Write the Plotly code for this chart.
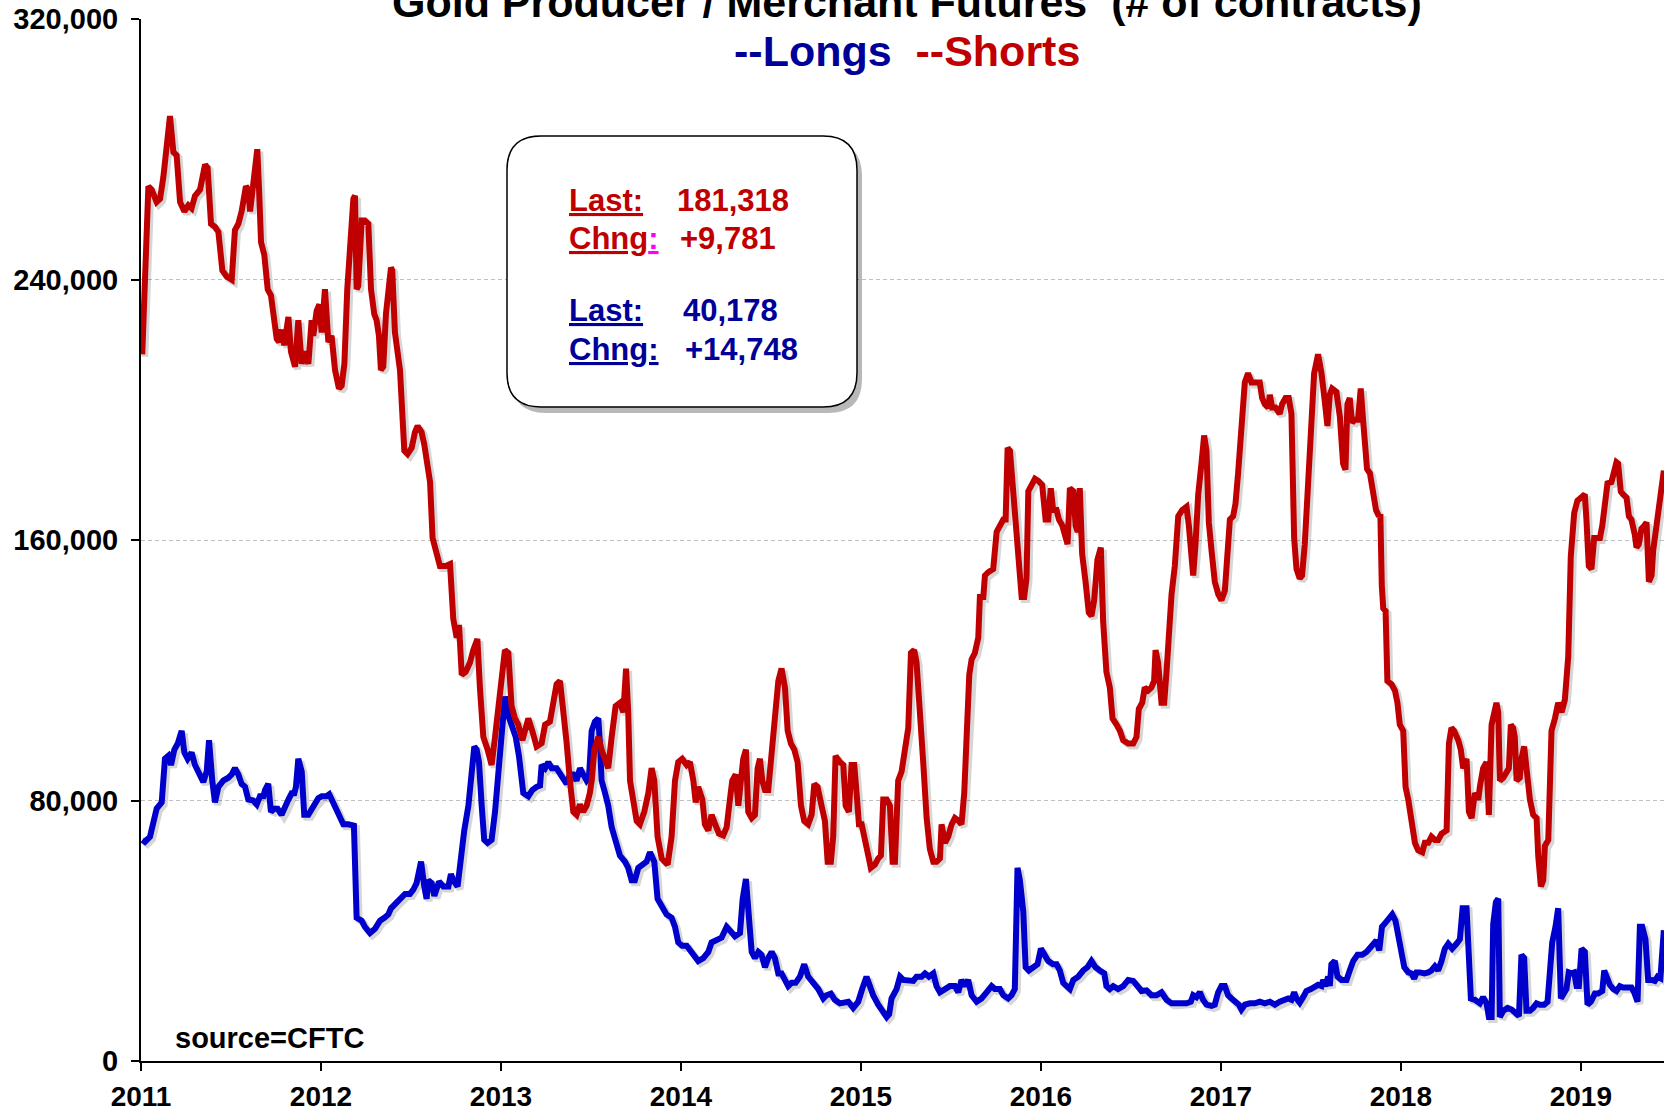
import plotly.graph_objects as go

# ---------------- data (thousands of contracts, time in decimal years) ----------------
short_t = [2011.007, 2011.019, 2011.041, 2011.059, 2011.087, 2011.106, 2011.124, 2011.161, 2011.180, 2011.198,
           2011.217, 2011.241, 2011.263, 2011.281, 2011.300, 2011.328, 2011.356, 2011.370, 2011.389, 2011.411,
           2011.430, 2011.452, 2011.476, 2011.504, 2011.522, 2011.541, 2011.559, 2011.583, 2011.596, 2011.606,
           2011.624, 2011.646, 2011.656, 2011.667, 2011.685, 2011.704, 2011.722, 2011.741, 2011.754, 2011.767,
           2011.781, 2011.796, 2011.819, 2011.833, 2011.856, 2011.874, 2011.893, 2011.911, 2011.930, 2011.948,
           2011.957, 2011.976, 2011.991, 2012.004, 2012.022, 2012.041, 2012.059, 2012.078, 2012.100, 2012.115,
           2012.130, 2012.146, 2012.161, 2012.180, 2012.189, 2012.198, 2012.207, 2012.226, 2012.244, 2012.263,
           2012.278, 2012.296, 2012.309, 2012.322, 2012.333, 2012.346, 2012.361, 2012.374, 2012.389, 2012.396,
           2012.411, 2012.439, 2012.463, 2012.481, 2012.504, 2012.522, 2012.537, 2012.559, 2012.574, 2012.606,
           2012.620, 2012.643, 2012.661, 2012.693, 2012.717, 2012.735, 2012.754, 2012.767, 2012.782, 2012.804,
           2012.828, 2012.846, 2012.869, 2012.883, 2012.902, 2012.926, 2012.948, 2012.967, 2012.985, 2013.004,
           2013.022, 2013.041, 2013.059, 2013.078, 2013.096, 2013.119, 2013.137, 2013.152, 2013.174, 2013.198,
           2013.226, 2013.245, 2013.272, 2013.291, 2013.309, 2013.328, 2013.346, 2013.365, 2013.383, 2013.402,
           2013.420, 2013.439, 2013.457, 2013.476, 2013.494, 2013.504, 2013.519, 2013.541, 2013.559, 2013.578,
           2013.596, 2013.615, 2013.637, 2013.661, 2013.680, 2013.695, 2013.707, 2013.717, 2013.735, 2013.754,
           2013.772, 2013.796, 2013.819, 2013.837, 2013.852, 2013.870, 2013.893, 2013.926, 2013.948, 2013.967,
           2013.985, 2014.007, 2014.032, 2014.050, 2014.069, 2014.082, 2014.096, 2014.119, 2014.133, 2014.152,
           2014.170, 2014.193, 2014.211, 2014.235, 2014.254, 2014.272, 2014.285, 2014.304, 2014.319, 2014.333,
           2014.346, 2014.361, 2014.374, 2014.393, 2014.411, 2014.426, 2014.439, 2014.452, 2014.467, 2014.485,
           2014.504, 2014.522, 2014.541, 2014.559, 2014.578, 2014.593, 2014.611, 2014.630, 2014.648, 2014.667,
           2014.685, 2014.707, 2014.726, 2014.741, 2014.759, 2014.781, 2014.800, 2014.815, 2014.833, 2014.846,
           2014.859, 2014.883, 2014.902, 2014.915, 2014.933, 2014.948, 2014.963, 2014.976, 2014.989, 2015.004,
           2015.022, 2015.041, 2015.055, 2015.078, 2015.096, 2015.111, 2015.124, 2015.143, 2015.161, 2015.176,
           2015.189, 2015.207, 2015.226, 2015.244, 2015.263, 2015.278, 2015.296, 2015.309, 2015.328, 2015.346,
           2015.365, 2015.383, 2015.402, 2015.420, 2015.439, 2015.448, 2015.467, 2015.485, 2015.504, 2015.522,
           2015.544, 2015.559, 2015.574, 2015.587, 2015.602, 2015.615, 2015.633, 2015.652, 2015.661, 2015.680,
           2015.689, 2015.707, 2015.735, 2015.754, 2015.772, 2015.791, 2015.804, 2015.815, 2015.828, 2015.846,
           2015.865, 2015.883, 2015.893, 2015.907, 2015.920, 2015.930, 2015.948, 2015.967, 2015.985, 2016.007,
           2016.026, 2016.041, 2016.055, 2016.068, 2016.087, 2016.100, 2016.119, 2016.148, 2016.161, 2016.180,
           2016.193, 2016.204, 2016.216, 2016.229, 2016.248, 2016.266, 2016.281, 2016.296, 2016.314, 2016.333,
           2016.346, 2016.364, 2016.383, 2016.398, 2016.420, 2016.439, 2016.457, 2016.485, 2016.513, 2016.531,
           2016.544, 2016.563, 2016.577, 2016.596, 2016.614, 2016.629, 2016.637, 2016.651, 2016.670, 2016.685,
           2016.698, 2016.711, 2016.726, 2016.744, 2016.763, 2016.785, 2016.809, 2016.822, 2016.833, 2016.846,
           2016.859, 2016.874, 2016.892, 2016.907, 2016.920, 2016.933, 2016.948, 2016.966, 2016.985, 2017.003,
           2017.022, 2017.037, 2017.050, 2017.068, 2017.081, 2017.096, 2017.114, 2017.133, 2017.151, 2017.170,
           2017.198, 2017.216, 2017.229, 2017.244, 2017.263, 2017.272, 2017.285, 2017.303, 2017.327, 2017.340,
           2017.359, 2017.377, 2017.392, 2017.407, 2017.420, 2017.438, 2017.451, 2017.466, 2017.485, 2017.503,
           2017.518, 2017.540, 2017.559, 2017.577, 2017.592, 2017.605, 2017.618, 2017.642, 2017.661, 2017.679,
           2017.692, 2017.703, 2017.716, 2017.729, 2017.744, 2017.762, 2017.777, 2017.790, 2017.800, 2017.812,
           2017.828, 2017.846, 2017.862, 2017.878, 2017.886, 2017.894, 2017.902, 2017.915, 2017.925, 2017.948,
           2017.967, 2017.981, 2017.994, 2018.013, 2018.026, 2018.041, 2018.059, 2018.078, 2018.096, 2018.119,
           2018.133, 2018.152, 2018.170, 2018.189, 2018.207, 2018.226, 2018.254, 2018.267, 2018.281, 2018.296,
           2018.319, 2018.333, 2018.346, 2018.365, 2018.378, 2018.393, 2018.411, 2018.430, 2018.439, 2018.457,
           2018.476, 2018.489, 2018.504, 2018.519, 2018.531, 2018.541, 2018.550, 2018.569, 2018.587, 2018.600,
           2018.611, 2018.624, 2018.633, 2018.643, 2018.661, 2018.670, 2018.685, 2018.698, 2018.717, 2018.735,
           2018.754, 2018.763, 2018.778, 2018.791, 2018.800, 2018.819, 2018.837, 2018.856, 2018.874, 2018.893,
           2018.911, 2018.930, 2018.944, 2018.963, 2018.981, 2019.000, 2019.022, 2019.031, 2019.044, 2019.059,
           2019.074, 2019.087, 2019.106, 2019.119, 2019.137, 2019.148, 2019.170, 2019.189, 2019.198, 2019.207,
           2019.222, 2019.235, 2019.254, 2019.267, 2019.281, 2019.300, 2019.309, 2019.322, 2019.337, 2019.352,
           2019.365, 2019.378, 2019.393, 2019.402, 2019.420, 2019.442, 2019.461]
short_v = [217.0, 240.9, 268.6, 267.6, 263.8, 264.8, 271.4, 290.2, 279.1, 278.1,
           263.8, 260.9, 262.8, 261.9, 265.7, 267.6, 275.3, 274.3, 257.1, 256.2,
           254.6, 242.8, 240.9, 239.9, 255.2, 257.1, 260.9, 268.6, 267.6, 260.9,
           269.5, 280.0, 267.6, 251.4, 247.6, 237.0, 235.1, 226.5, 221.8, 220.8,
           224.6, 219.8, 228.5, 217.9, 213.2, 227.5, 214.1, 217.9, 214.1, 227.5,
           222.7, 230.4, 232.3, 223.7, 237.0, 220.8, 222.7, 212.2, 206.5, 207.4,
           214.1, 237.0, 250.4, 264.8, 265.7, 237.0, 238.0, 258.1, 258.1, 257.1,
           237.0, 229.4, 227.5, 222.7, 212.2, 213.2, 229.4, 237.0, 243.7, 242.8,
           223.7, 212.2, 187.4, 186.4, 188.3, 193.1, 195.0, 193.1, 189.3, 177.8,
           160.6, 155.8, 152.0, 152.0, 152.6, 135.8, 130.0, 133.9, 118.6, 119.5,
           122.4, 126.2, 129.6, 114.7, 99.5, 95.6, 90.9, 99.5, 109.0, 117.6,
           126.2, 125.3, 109.0, 105.2, 103.3, 98.5, 103.3, 105.2, 101.4, 96.6,
           97.6, 103.3, 104.2, 110.0, 115.7, 116.7, 109.0, 97.6, 86.1, 76.5,
           75.6, 78.8, 76.5, 78.4, 82.3, 86.1, 95.6, 99.5, 95.6, 91.8,
           89.9, 99.5, 109.0, 110.0, 107.1, 120.5, 107.1, 86.1, 80.3, 73.7,
           72.7, 76.5, 82.3, 89.9, 86.1, 68.9, 62.2, 60.3, 68.9, 86.1,
           91.8, 92.8, 90.9, 91.8, 86.1, 79.4, 84.2, 80.3, 72.7, 70.8,
           75.6, 72.7, 69.8, 69.3, 71.8, 80.3, 86.1, 88.0, 78.4, 86.1,
           92.8, 95.6, 76.5, 74.6, 75.6, 89.9, 92.8, 86.1, 83.2, 83.2,
           95.6, 105.2, 116.7, 120.5, 114.7, 101.4, 97.5, 95.6, 91.8, 78.4,
           73.7, 72.7, 75.6, 85.1, 84.2, 78.4, 73.7, 61.2, 61.2, 68.9,
           93.7, 91.8, 90.9, 78.4, 76.5, 90.9, 90.9, 82.3, 72.7, 72.7,
           68.9, 63.1, 59.3, 60.3, 62.2, 63.1, 80.3, 80.3, 78.4, 61.2,
           61.2, 86.1, 88.9, 95.6, 102.3, 125.3, 126.2, 122.4, 109.0, 91.8,
           74.6, 65.1, 61.2, 61.2, 62.2, 72.7, 67.0, 68.9, 72.7, 74.6,
           73.7, 72.7, 82.3, 95.6, 118.6, 123.3, 125.3, 130.0, 142.5, 142.5,
           149.1, 150.1, 151.1, 162.5, 164.4, 166.3, 166.3, 188.3, 187.4, 174.0,
           160.6, 149.1, 142.5, 142.5, 148.2, 175.0, 176.9, 178.8, 178.2, 176.9,
           166.3, 166.3, 175.9, 169.2, 169.2, 166.3, 164.4, 158.7, 175.9, 175.0,
           164.4, 162.5, 175.9, 155.8, 147.2, 137.7, 136.7, 141.5, 153.9, 157.7,
           134.8, 119.5, 114.7, 105.2, 103.3, 101.4, 98.5, 97.5, 97.5, 99.5,
           108.1, 110.0, 114.7, 113.8, 114.7, 116.7, 126.2, 122.4, 110.0, 110.0,
           119.5, 133.9, 143.4, 152.0, 167.3, 169.2, 170.2, 164.4, 153.9, 149.1,
           158.7, 174.0, 183.5, 192.1, 187.4, 165.4, 156.8, 147.2, 143.4, 141.5,
           144.4, 157.7, 166.3, 167.3, 171.1, 180.7, 192.1, 208.4, 211.2, 208.4,
           208.4, 208.4, 203.6, 201.7, 200.7, 204.6, 200.7, 200.7, 198.8, 201.7,
           203.6, 203.6, 198.8, 160.6, 151.1, 148.2, 149.1, 158.7, 177.8, 200.7,
           211.2, 217.0, 211.2, 202.7, 195.0, 204.6, 206.5, 205.5, 197.9, 183.5,
           181.6, 201.7, 203.6, 196.0, 196.9, 196.9, 206.5, 196.9, 191.2, 181.8,
           180.5, 174.0, 169.2, 167.3, 168.0, 146.0, 139.0, 138.2, 116.7, 115.7,
           113.8, 110.0, 103.3, 101.4, 84.2, 80.3, 73.7, 67.0, 64.7, 64.1,
           67.0, 67.0, 68.9, 67.9, 67.9, 69.8, 70.8, 97.5, 102.3, 101.4,
           98.5, 95.6, 89.9, 92.8, 76.5, 74.6, 82.3, 80.3, 84.2, 89.9,
           91.8, 75.6, 103.3, 107.1, 110.0, 107.1, 86.1, 87.0, 88.9, 89.9,
           103.3, 102.3, 99.5, 86.1, 87.0, 92.8, 96.6, 88.0, 80.3, 75.6,
           74.6, 63.1, 53.6, 55.5, 66.0, 67.9, 101.4, 105.2, 110.0, 107.1,
           110.9, 124.3, 154.9, 168.3, 172.1, 173.0, 174.0, 166.3, 152.0, 151.1,
           160.6, 160.6, 160.6, 164.4, 172.1, 177.4, 177.8, 181.2, 183.9, 183.5,
           174.9, 174.0, 173.0, 167.3, 166.3, 161.6, 157.7, 158.7, 163.5, 164.4,
           165.4, 147.2, 149.1, 156.8, 164.4, 171.537, 181.318]

long_t = [2011.007, 2011.022, 2011.050, 2011.069, 2011.087, 2011.115, 2011.133, 2011.152, 2011.167, 2011.185,
          2011.204, 2011.226, 2011.241, 2011.259, 2011.281, 2011.300, 2011.328, 2011.346, 2011.365, 2011.378,
          2011.396, 2011.411, 2011.430, 2011.457, 2011.485, 2011.504, 2011.522, 2011.541, 2011.559, 2011.578,
          2011.596, 2011.624, 2011.643, 2011.661, 2011.680, 2011.689, 2011.707, 2011.722, 2011.741, 2011.759,
          2011.781, 2011.800, 2011.819, 2011.837, 2011.852, 2011.861, 2011.874, 2011.893, 2011.907, 2011.930,
          2011.957, 2011.985, 2012.004, 2012.031, 2012.046, 2012.069, 2012.096, 2012.124, 2012.152, 2012.183,
          2012.198, 2012.226, 2012.244, 2012.272, 2012.300, 2012.328, 2012.352, 2012.374, 2012.389, 2012.430,
          2012.467, 2012.494, 2012.513, 2012.531, 2012.556, 2012.574, 2012.587, 2012.596, 2012.615, 2012.630,
          2012.643, 2012.656, 2012.680, 2012.708, 2012.722, 2012.735, 2012.759, 2012.778, 2012.796, 2012.819,
          2012.837, 2012.852, 2012.865, 2012.878, 2012.893, 2012.907, 2012.926, 2012.948, 2012.967, 2012.985,
          2013.004, 2013.022, 2013.041, 2013.059, 2013.082, 2013.100, 2013.124, 2013.152, 2013.174, 2013.198,
          2013.217, 2013.226, 2013.245, 2013.263, 2013.282, 2013.309, 2013.328, 2013.346, 2013.365, 2013.383,
          2013.402, 2013.420, 2013.439, 2013.457, 2013.476, 2013.489, 2013.504, 2013.522, 2013.541, 2013.550,
          2013.559, 2013.574, 2013.596, 2013.615, 2013.637, 2013.661, 2013.689, 2013.707, 2013.726, 2013.744,
          2013.763, 2013.791, 2013.809, 2013.828, 2013.852, 2013.870, 2013.893, 2013.920, 2013.948, 2013.967,
          2013.985, 2014.007, 2014.032, 2014.056, 2014.078, 2014.096, 2014.124, 2014.152, 2014.170, 2014.198,
          2014.226, 2014.254, 2014.278, 2014.300, 2014.328, 2014.343, 2014.361, 2014.374, 2014.393, 2014.411,
          2014.430, 2014.448, 2014.467, 2014.485, 2014.504, 2014.522, 2014.541, 2014.559, 2014.578, 2014.596,
          2014.615, 2014.637, 2014.661, 2014.685, 2014.707, 2014.735, 2014.763, 2014.791, 2014.809, 2014.833,
          2014.855, 2014.883, 2014.907, 2014.930, 2014.957, 2014.985, 2015.007, 2015.031, 2015.050, 2015.068,
          2015.096, 2015.115, 2015.143, 2015.157, 2015.170, 2015.198, 2015.217, 2015.235, 2015.263, 2015.291,
          2015.309, 2015.337, 2015.356, 2015.378, 2015.402, 2015.420, 2015.439, 2015.467, 2015.494, 2015.522,
          2015.541, 2015.559, 2015.578, 2015.596, 2015.615, 2015.643, 2015.670, 2015.698, 2015.726, 2015.744,
          2015.772, 2015.791, 2015.818, 2015.837, 2015.855, 2015.870, 2015.883, 2015.902, 2015.915, 2015.933,
          2015.957, 2015.981, 2016.000, 2016.018, 2016.041, 2016.068, 2016.087, 2016.105, 2016.124, 2016.143,
          2016.161, 2016.180, 2016.207, 2016.235, 2016.259, 2016.281, 2016.303, 2016.327, 2016.352, 2016.364,
          2016.383, 2016.402, 2016.429, 2016.457, 2016.485, 2016.513, 2016.537, 2016.559, 2016.587, 2016.614,
          2016.642, 2016.670, 2016.698, 2016.726, 2016.753, 2016.781, 2016.809, 2016.833, 2016.846, 2016.864,
          2016.883, 2016.901, 2016.920, 2016.948, 2016.966, 2016.985, 2017.003, 2017.022, 2017.040, 2017.059,
          2017.077, 2017.100, 2017.114, 2017.133, 2017.161, 2017.189, 2017.216, 2017.244, 2017.272, 2017.300,
          2017.327, 2017.355, 2017.374, 2017.392, 2017.407, 2017.420, 2017.438, 2017.457, 2017.475, 2017.500,
          2017.522, 2017.540, 2017.559, 2017.568, 2017.581, 2017.596, 2017.605, 2017.614, 2017.633, 2017.648,
          2017.670, 2017.698, 2017.716, 2017.735, 2017.759, 2017.785, 2017.809, 2017.827, 2017.846, 2017.864,
          2017.880, 2017.895, 2017.915, 2017.933, 2017.952, 2017.970, 2017.985, 2018.000, 2018.019, 2018.041,
          2018.059, 2018.074, 2018.087, 2018.106, 2018.130, 2018.152, 2018.170, 2018.189, 2018.207, 2018.226,
          2018.244, 2018.263, 2018.285, 2018.309, 2018.328, 2018.343, 2018.365, 2018.374, 2018.389, 2018.411,
          2018.439, 2018.457, 2018.476, 2018.489, 2018.504, 2018.513, 2018.528, 2018.541, 2018.550, 2018.569,
          2018.593, 2018.615, 2018.643, 2018.656, 2018.670, 2018.685, 2018.698, 2018.717, 2018.735, 2018.754,
          2018.772, 2018.796, 2018.815, 2018.828, 2018.841, 2018.859, 2018.874, 2018.889, 2018.902, 2018.920,
          2018.933, 2018.948, 2018.963, 2018.976, 2018.989, 2019.004, 2019.022, 2019.037, 2019.056, 2019.078,
          2019.096, 2019.119, 2019.130, 2019.143, 2019.161, 2019.180, 2019.198, 2019.217, 2019.235, 2019.263,
          2019.281, 2019.296, 2019.315, 2019.328, 2019.341, 2019.359, 2019.374, 2019.393, 2019.411, 2019.426,
          2019.442, 2019.461]
long_v = [67.9, 67.3, 68.9, 72.7, 77.5, 79.4, 92.8, 93.7, 90.9, 95.6,
          97.5, 101.4, 94.7, 92.8, 94.7, 90.9, 88.0, 85.7, 88.9, 98.5,
          86.1, 79.4, 84.2, 86.1, 87.0, 88.0, 89.9, 88.0, 85.1, 84.2,
          80.3, 80.0, 78.8, 81.3, 81.3, 83.2, 85.1, 76.5, 77.5, 77.5,
          75.6, 77.5, 80.3, 82.2, 82.2, 84.2, 92.8, 88.9, 75.6, 75.6,
          78.4, 80.7, 81.3, 81.3, 81.9, 79.4, 75.6, 72.7, 72.7, 72.3,
          44.0, 43.1, 41.2, 39.3, 40.6, 43.1, 44.0, 45.0, 46.9, 49.4,
          51.3, 51.3, 52.6, 54.6, 61.2, 53.6, 49.8, 55.5, 54.6, 50.7,
          53.6, 55.1, 53.6, 53.6, 57.4, 55.5, 53.6, 63.1, 70.8, 78.4,
          88.0, 96.6, 95.6, 91.8, 78.4, 67.9, 67.0, 67.9, 76.5, 89.9,
          101.4, 111.9, 106.1, 103.3, 99.5, 93.7, 82.3, 81.3, 83.2, 84.2,
          84.6, 90.9, 89.9, 91.8, 89.9, 89.9, 88.0, 87.0, 85.1, 88.0,
          88.0, 86.1, 89.9, 88.0, 86.1, 87.0, 101.4, 104.2, 105.2, 97.5,
          86.1, 83.2, 78.4, 71.8, 67.0, 63.1, 61.2, 59.3, 55.5, 55.5,
          59.3, 60.3, 61.2, 64.1, 61.2, 49.8, 47.9, 45.0, 44.0, 41.2,
          36.4, 35.4, 35.4, 33.5, 31.6, 30.7, 31.6, 33.5, 36.4, 37.4,
          37.9, 41.2, 39.3, 38.3, 39.3, 49.8, 55.9, 45.9, 33.5, 31.6,
          33.5, 32.6, 28.8, 31.6, 33.5, 31.6, 26.9, 26.9, 24.9, 23.0,
          24.0, 24.0, 25.9, 29.7, 25.9, 24.0, 22.1, 19.2, 20.2, 20.7,
          18.8, 17.7, 18.2, 18.2, 16.3, 18.2, 22.1, 25.9, 23.0, 20.2,
          17.3, 15.4, 13.5, 14.4, 19.2, 22.1, 25.9, 24.9, 24.9, 24.6,
          25.9, 25.9, 26.9, 25.9, 26.9, 23.0, 21.1, 22.1, 23.0, 23.0,
          21.1, 24.9, 23.0, 24.9, 20.2, 18.2, 19.2, 21.1, 23.0, 22.1,
          22.1, 20.2, 19.2, 20.2, 22.1, 59.3, 55.5, 45.9, 28.8, 27.8,
          28.8, 29.7, 34.5, 32.6, 30.7, 29.7, 29.7, 27.8, 24.0, 23.0,
          22.1, 24.9, 25.9, 27.8, 28.8, 30.7, 28.8, 27.8, 26.9, 23.0,
          22.1, 23.0, 22.1, 23.0, 24.9, 24.6, 23.0, 21.5, 21.7, 20.2,
          20.2, 21.1, 18.8, 17.7, 17.7, 17.7, 17.7, 18.2, 20.2, 19.6,
          21.1, 18.8, 17.3, 16.9, 17.3, 21.1, 23.0, 23.0, 20.2, 19.2,
          18.2, 17.3, 15.8, 17.3, 17.7, 17.7, 18.2, 17.7, 18.2, 17.3,
          18.2, 18.8, 19.2, 18.8, 21.1, 19.2, 17.9, 19.6, 21.5, 22.1,
          23.0, 23.4, 23.0, 24.9, 23.0, 25.9, 23.0, 29.7, 30.7, 25.9,
          24.9, 24.9, 27.8, 30.7, 32.6, 32.6, 33.5, 34.5, 36.2, 37.0,
          34.0, 41.2, 42.5, 44.0, 45.0, 43.1, 38.3, 32.6, 28.8, 27.2,
          26.9, 25.3, 27.2, 27.2, 26.9, 27.2, 27.8, 29.1, 27.8, 30.7,
          34.5, 36.0, 34.5, 36.0, 37.4, 46.9, 46.9, 36.4, 19.2, 18.8,
          17.7, 19.6, 17.7, 13.5, 13.5, 42.1, 48.8, 49.8, 13.5, 15.4,
          16.3, 15.8, 14.4, 13.8, 32.6, 31.6, 15.4, 15.4, 16.3, 17.7,
          17.3, 17.3, 18.2, 26.9, 36.4, 41.2, 46.9, 19.2, 20.2, 22.1,
          27.2, 26.9, 27.2, 23.0, 23.0, 34.5, 33.5, 17.3, 18.2, 20.7,
          20.7, 21.5, 27.8, 25.9, 23.4, 22.1, 21.5, 23.0, 22.6, 22.6,
          22.6, 21.1, 18.2, 41.2, 41.2, 37.4, 24.9, 24.9, 24.6, 25.9,
          25.43, 40.178]

year_ticks = [2011, 2012, 2013, 2014, 2015, 2016, 2017, 2018, 2019]
year_labels = [str(y) for y in year_ticks]
y_ticks = [0, 80000, 160000, 240000, 320000]
x_range = [2011.0, 2019.462]
y_range = [0, 320000]

last_short, chng_short = "181,318", "+9,781"
last_long, chng_long = "40,178", "+14,748"

# ---------------- styling / geometry ----------------
W, H = 1667, 1111
ML, MR, MT, MB = 141, 3, 19, 50
PW, PH = W - ML - MR, H - MT - MB
RED, BLUE = "#C00000", "#0000CC"
TRED, TBLUE = "#C00000", "#000099"
FONT = "Liberation Sans, Arial, sans-serif"
SHADOW_PX = 2.5


def px(x):
    return (x - ML) / PW


def py(y):
    return (H - MB - y) / PH


def rounded_rect(x0, y0, x1, y1, r):
    X0, X1 = px(x0), px(x1)
    Y0, Y1 = py(y0), py(y1)
    rx, ry = r / PW, r / PH
    return (f"M {X0+rx},{Y0} L {X1-rx},{Y0} Q {X1},{Y0} {X1},{Y0-ry} "
            f"L {X1},{Y1+ry} Q {X1},{Y1} {X1-rx},{Y1} "
            f"L {X0+rx},{Y1} Q {X0},{Y1} {X0},{Y1+ry} "
            f"L {X0},{Y0-ry} Q {X0},{Y0} {X0+rx},{Y0} Z")


# shadow axes: same data, ranges nudged so the copy lands a few pixels lower-right
dx = SHADOW_PX / PW * (x_range[1] - x_range[0])
dy = SHADOW_PX / PH * (y_range[1] - y_range[0])
x_range_sh = [x_range[0] - dx, x_range[1] - dx]
y_range_sh = [y_range[0] + dy, y_range[1] + dy]

fig = go.Figure()
for t, v in ((long_t, long_v), (short_t, short_v)):
    fig.add_trace(go.Scatter(x=t, y=[a * 1000 for a in v], mode="lines", xaxis="x", yaxis="y",
                             line=dict(color="rgba(0,0,0,0.16)", width=7), hoverinfo="skip"))
fig.add_trace(go.Scatter(x=long_t, y=[v * 1000 for v in long_v], mode="lines", xaxis="x2", yaxis="y2",
                         line=dict(color=BLUE, width=6), name="Longs", hoverinfo="skip"))
fig.add_trace(go.Scatter(x=short_t, y=[v * 1000 for v in short_v], mode="lines", xaxis="x2", yaxis="y2",
                         line=dict(color=RED, width=6), name="Shorts", hoverinfo="skip"))

tickfont = dict(family=FONT, size=28, color="black", weight="bold")
ytickfont = dict(family=FONT, size=29, color="black", weight="bold")
fig.update_layout(
    width=W, height=H, margin=dict(l=ML, r=MR, t=MT, b=MB, autoexpand=False),
    paper_bgcolor="white", plot_bgcolor="white", showlegend=False,
    xaxis=dict(range=x_range_sh, visible=False, automargin=False),
    yaxis=dict(range=y_range_sh, visible=False, automargin=False),
    xaxis2=dict(overlaying="x", side="bottom", range=x_range, tickvals=year_ticks, ticktext=year_labels,
                ticks="outside", ticklen=8, tickwidth=2, tickcolor="black", showline=True,
                linecolor="black", linewidth=2, showgrid=False, zeroline=False, tickfont=tickfont,
                ticklabelstandoff=1, automargin=False),
    yaxis2=dict(overlaying="y", side="left", range=y_range, tickvals=y_ticks, tickformat=",",
                ticks="outside", ticklen=8, tickwidth=2, tickcolor="black", showline=True,
                linecolor="black", linewidth=2, showgrid=True, gridcolor="#BFBFBF", gridwidth=1,
                griddash="4px,3px", zeroline=False, tickfont=ytickfont, ticklabelstandoff=7,
                automargin=False),
)

# info box with shadow
fig.add_shape(type="path", xref="paper", yref="paper", layer="above",
              path=rounded_rect(512, 142, 862, 413, 34),
              fillcolor="rgba(0,0,0,0.28)", line=dict(width=0))
fig.add_shape(type="path", xref="paper", yref="paper", layer="above",
              path=rounded_rect(507, 136, 857, 407, 34),
              fillcolor="white", line=dict(color="black", width=1.5))

big = dict(family=FONT, size=31, weight="bold")
rows = [
    ("<u>Last:</u>", last_short, 200.5, TRED, 675),
    ("<u>Chng</u><span style='color:#FF00FF'><u>:</u></span>", chng_short, 239, TRED, 678),
    ("<u>Last:</u>", last_long, 310.5, TBLUE, 681),
    ("<u>Chng:</u>", chng_long, 349.5, TBLUE, 683),
]
for lab, val, yc, col, xv in rows:
    fig.add_annotation(x=px(567), y=py(yc), xref="paper", yref="paper", text=lab,
                       showarrow=False, xanchor="left", yanchor="middle",
                       font=dict(big, color=col))
    fig.add_annotation(x=px(xv), y=py(yc), xref="paper", yref="paper", text=val,
                       showarrow=False, xanchor="left", yanchor="middle",
                       font=dict(big, color=col))

# titles
fig.add_annotation(x=px(907), y=py(2), xref="paper", yref="paper",
                   text="Gold Producer / Merchant Futures\u00a0 (# of contracts)",
                   showarrow=False, xanchor="center", yanchor="middle", bgcolor="white",
                   font=dict(family=FONT, size=43, color="black", weight="bold"))
fig.add_annotation(x=px(907), y=py(51), xref="paper", yref="paper",
                   text=f"<span style='color:{TBLUE}'>--Longs</span>\u00a0 <span style='color:{TRED}'>--Shorts</span>",
                   showarrow=False, xanchor="center", yanchor="middle",
                   font=dict(family=FONT, size=43, weight="bold"))
fig.add_annotation(x=px(173), y=py(1038), xref="paper", yref="paper", text="source=CFTC",
                   showarrow=False, xanchor="left", yanchor="middle",
                   font=dict(family=FONT, size=29, color="black", weight="bold"))

# remove the default 8px page margin so the figure fills the window exactly
fig.write_html("out.html", config={"displayModeBar": False},
               post_script="document.body.style.margin='0';document.body.style.overflow='hidden';")
